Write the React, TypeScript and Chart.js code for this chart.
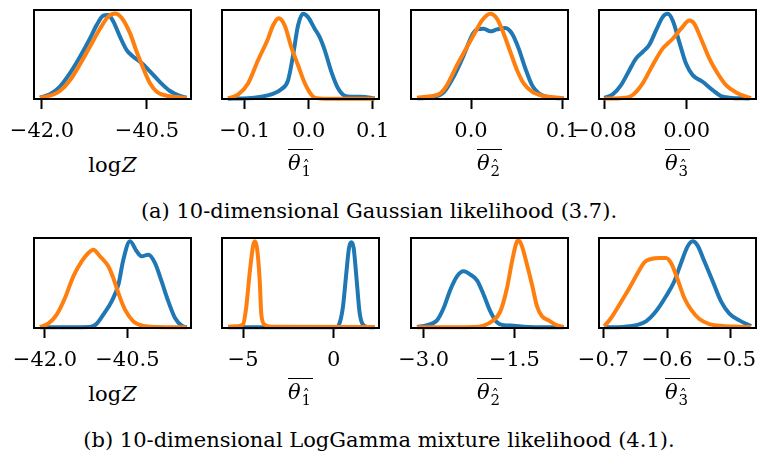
import React, { useEffect, useRef } from 'react';
import { Chart, registerables } from 'chart.js';

Chart.register(...registerables);

const BLUE = '#1f77b4';
const ORANGE = '#ff7f0e';
const FONT = 'DejaVu Serif';

// ---- (a) 10-dimensional Gaussian likelihood: [value, density (scaled to panel height)] ----
const gaussLogZBlue: number[][] = [[-42.029,0.015],[-41.886,0.053],[-41.743,0.14],[-41.6,0.29],[-41.457,0.475],[-41.314,0.68],[-41.219,0.83],[-41.124,0.936],[-41.053,0.944],[-40.981,0.87],[-40.886,0.7],[-40.79,0.55],[-40.696,0.475],[-40.6,0.42],[-40.457,0.31],[-40.314,0.19],[-40.171,0.09],[-40.029,0.034],[-39.933,0.015]];
const gaussLogZOrange: number[][] = [[-42.029,0.015],[-41.886,0.037],[-41.743,0.09],[-41.6,0.21],[-41.457,0.39],[-41.314,0.59],[-41.171,0.79],[-41.053,0.925],[-40.957,0.96],[-40.861,0.91],[-40.743,0.74],[-40.647,0.53],[-40.553,0.345],[-40.457,0.176],[-40.361,0.082],[-40.219,0.037],[-40.076,0.022],[-39.933,0.01]];

const gaussT1Blue: number[][] = [[-0.1261,0.004],[-0.0948,0.0075],[-0.074,0.026],[-0.0584,0.052],[-0.0428,0.11],[-0.0323,0.21],[-0.0245,0.49],[-0.0167,0.826],[-0.0089,0.957],[-0.0011,0.92],[0.0093,0.79],[0.0171,0.696],[0.025,0.55],[0.0354,0.305],[0.0458,0.12],[0.0562,0.037],[0.0666,0.026],[0.0823,0.026],[0.1031,0.0075]];
const gaussT1Orange: number[][] = [[-0.1261,0.0075],[-0.1105,0.05],[-0.0948,0.175],[-0.0792,0.435],[-0.0636,0.677],[-0.0558,0.826],[-0.0469,0.908],[-0.0375,0.826],[-0.0271,0.58],[-0.0167,0.38],[-0.0063,0.18],[0.0015,0.074],[0.0093,0.015],[0.025,0.004],[0.1031,0.004]];

const gaussT2Blue: number[][] = [[-0.0591,0.007],[-0.0409,0.022],[-0.0299,0.074],[-0.019,0.25],[-0.008,0.49],[0.0011,0.715],[0.0066,0.782],[0.0139,0.79],[0.0212,0.76],[0.0285,0.782],[0.0376,0.797],[0.0449,0.734],[0.0522,0.566],[0.0595,0.343],[0.0668,0.156],[0.0741,0.063],[0.0832,0.022],[0.1015,0.007]];
const gaussT2Orange: number[][] = [[-0.0591,0.015],[-0.0445,0.03],[-0.0336,0.063],[-0.0263,0.156],[-0.0153,0.38],[-0.0044,0.585],[0.0047,0.752],[0.012,0.882],[0.0212,0.957],[0.0285,0.9],[0.0358,0.734],[0.0431,0.528],[0.0504,0.324],[0.0577,0.175],[0.0668,0.082],[0.0796,0.033],[0.0906,0.019],[0.1015,0.007]];

const gaussT3Blue: number[][] = [[-0.08,0.011],[-0.0719,0.052],[-0.0638,0.156],[-0.0557,0.324],[-0.0493,0.454],[-0.0428,0.528],[-0.0363,0.61],[-0.0298,0.77],[-0.0234,0.92],[-0.0185,0.957],[-0.0136,0.882],[-0.0072,0.64],[-0.0007,0.398],[0.0058,0.268],[0.0155,0.194],[0.0252,0.1],[0.0333,0.033],[0.0414,0.015],[0.0609,0.007]];
const gaussT3Orange: number[][] = [[-0.08,0.004],[-0.0622,0.011],[-0.0525,0.045],[-0.0428,0.175],[-0.0331,0.38],[-0.0234,0.566],[-0.0136,0.677],[-0.0055,0.79],[0.0026,0.882],[0.0074,0.845],[0.0139,0.677],[0.022,0.454],[0.0301,0.287],[0.0382,0.156],[0.0479,0.074],[0.0576,0.026],[0.0625,0.011]];

// ---- (b) 10-dimensional LogGamma mixture likelihood ----
const lgLogZBlue: number[][] = [[-42.091,0.007],[-41.18,0.011],[-41.059,0.048],[-40.938,0.148],[-40.786,0.296],[-40.664,0.48],[-40.573,0.759],[-40.452,0.963],[-40.33,0.852],[-40.239,0.796],[-40.118,0.815],[-39.996,0.722],[-39.876,0.518],[-39.754,0.296],[-39.632,0.111],[-39.511,0.026],[-39.42,0.007]];
const lgLogZOrange: number[][] = [[-42.091,0.011],[-41.939,0.048],[-41.787,0.148],[-41.636,0.333],[-41.484,0.574],[-41.332,0.74],[-41.211,0.833],[-41.12,0.87],[-40.998,0.796],[-40.846,0.685],[-40.756,0.555],[-40.664,0.389],[-40.543,0.204],[-40.391,0.074],[-40.209,0.022],[-39.966,0.011],[-39.42,0.007]];

const lgT1Blue: number[][] = [[-5.83,0.007],[0.145,0.007],[0.329,0.056],[0.513,0.24],[0.697,0.611],[0.844,0.889],[0.973,0.952],[1.101,0.889],[1.249,0.574],[1.432,0.167],[1.616,0.037],[1.892,0.011],[2.26,0.007]];
const lgT1Orange: number[][] = [[-5.83,0.015],[-5.279,0.019],[-5.003,0.04],[-4.819,0.24],[-4.635,0.611],[-4.451,0.907],[-4.359,0.963],[-4.231,0.889],[-4.083,0.537],[-3.991,0.148],[-3.807,0.037],[-3.44,0.015],[2.26,0.011]];

const lgT2Blue: number[][] = [[-3.111,0.011],[-2.945,0.033],[-2.78,0.085],[-2.67,0.222],[-2.559,0.426],[-2.449,0.574],[-2.339,0.63],[-2.228,0.593],[-2.118,0.53],[-2.008,0.37],[-1.898,0.185],[-1.787,0.063],[-1.677,0.03],[-1.511,0.026],[-1.346,0.015],[-0.684,0.007]];
const lgT2Orange: number[][] = [[-3.111,0.007],[-2.173,0.011],[-2.008,0.026],[-1.87,0.074],[-1.732,0.185],[-1.622,0.444],[-1.539,0.74],[-1.467,0.944],[-1.429,0.974],[-1.374,0.907],[-1.291,0.704],[-1.208,0.481],[-1.125,0.24],[-1.043,0.13],[-0.932,0.085],[-0.794,0.03],[-0.684,0.011]];

const lgT3Blue: number[][] = [[-0.6984,0.007],[-0.6696,0.011],[-0.6487,0.03],[-0.633,0.074],[-0.6173,0.185],[-0.6016,0.352],[-0.5885,0.519],[-0.578,0.722],[-0.5676,0.907],[-0.5597,0.963],[-0.5519,0.915],[-0.5414,0.741],[-0.5283,0.519],[-0.5152,0.296],[-0.5021,0.159],[-0.4865,0.085],[-0.4681,0.019]];
const lgT3Orange: number[][] = [[-0.6984,0.019],[-0.6879,0.111],[-0.6748,0.259],[-0.6591,0.444],[-0.646,0.611],[-0.6356,0.73],[-0.6251,0.767],[-0.612,0.778],[-0.6016,0.778],[-0.5937,0.722],[-0.5832,0.537],[-0.5728,0.333],[-0.5623,0.204],[-0.5492,0.1],[-0.5335,0.044],[-0.5126,0.022],[-0.4865,0.015],[-0.4681,0.011]];

// ---- tick values and labels ----
const ticksLogZ = [-42.0, -40.5];
const labelsLogZ = ['\u221242.0', '\u221240.5'];
const ticksGT1 = [-0.1, 0.0, 0.1];
const labelsGT1 = ['\u22120.1', '0.0', '0.1'];
const ticksGT2 = [0.0, 0.1];
const labelsGT2 = ['0.0', '0.1'];
const ticksGT3 = [-0.08, 0.0];
const labelsGT3 = ['\u22120.08', '0.00'];
const ticksLT1 = [-5, 0];
const labelsLT1 = ['\u22125', '0'];
const ticksLT2 = [-3.0, -1.5];
const labelsLT2 = ['\u22123.0', '\u22121.5'];
const ticksLT3 = [-0.7, -0.6, -0.5];
const labelsLT3 = ['\u22120.7', '\u22120.6', '\u22120.5'];

// axis ranges
const xRangeGLogZ = [-42.114, -39.871];
const xRangeGT1 = [-0.1355, 0.1098];
const xRangeGT2 = [-0.0657, 0.1062];
const xRangeGT3 = [-0.0852, 0.0673];
const xRangeLLogZ = [-42.2, -39.341];
const xRangeLT1 = [-6.161, 2.499];
const xRangeLT2 = [-3.21, -0.613];
const xRangeLT3 = [-0.7068, -0.4603];

const captionA = '(a) 10-dimensional Gaussian likelihood (3.7).';
const captionB = '(b) 10-dimensional LogGamma mixture likelihood (4.1).';

const PAD_X = 40;
const PAD_TOP = 8;
const AXIS_H = 52;
const BOX_W = 157;
const COL_LEFT = [34, 222, 411, 599];
const ROW_TOP = [10, 238];
const ROW_H = [89, 90];

const framePlugin = {
  id: 'frame',
  afterDatasetsDraw(chart: any) {
    const { ctx, chartArea: a } = chart;
    ctx.save();
    ctx.strokeStyle = '#000';
    ctx.lineWidth = 2;
    ctx.strokeRect(a.left, a.top, a.right - a.left, a.bottom - a.top);
    ctx.restore();
  },
};

type PanelProps = {
  left: number; top: number; height: number;
  range: number[]; ticks: number[]; labels: string[];
  blue: number[][]; orange: number[][];
};

function Panel({ left, top, height, range, ticks, labels, blue, orange }: PanelProps) {
  const ref = useRef<HTMLCanvasElement>(null);
  useEffect(() => {
    if (!ref.current) return;
    const mk = (arr: number[][]) => arr.map(([x, y]) => ({ x, y }));
    const chart = new Chart(ref.current, {
      type: 'line',
      data: {
        datasets: [
          { data: mk(blue), borderColor: BLUE, borderWidth: 4, pointRadius: 0, fill: false, cubicInterpolationMode: 'monotone', clip: false, order: 2 } as any,
          { data: mk(orange), borderColor: ORANGE, borderWidth: 4, pointRadius: 0, fill: false, cubicInterpolationMode: 'monotone', clip: false, order: 1 } as any,
        ],
      },
      options: {
        animation: false,
        responsive: true,
        maintainAspectRatio: false,
        events: [],
        layout: { padding: { left: PAD_X, right: PAD_X, top: PAD_TOP, bottom: 0 } },
        plugins: { legend: { display: false }, tooltip: { enabled: false } },
        scales: {
          x: {
            type: 'linear',
            min: range[0],
            max: range[1],
            afterBuildTicks: (s: any) => { s.ticks = ticks.map((v) => ({ value: v })); },
            afterFit: (s: any) => { s.height = AXIS_H; },
            ticks: {
              callback: (_v: any, i: number) => labels[i],
              font: { family: FONT, size: 21 },
              color: '#000',
              padding: 10,
              maxRotation: 0,
              autoSkip: false,
            },
            grid: { drawOnChartArea: false, drawTicks: true, tickLength: 10, tickWidth: 2, tickColor: '#000' },
            border: { display: false },
          },
          y: { display: false, min: 0, max: 1 },
        },
      } as any,
      plugins: [framePlugin],
    });
    return () => chart.destroy();
  }, []);
  return (
    <div style={{ position: 'absolute', left: left - PAD_X, top: top - PAD_TOP, width: BOX_W + 2 * PAD_X, height: PAD_TOP + height + AXIS_H }}>
      <canvas ref={ref} />
    </div>
  );
}

function LogZ() {
  return <span>log<i style={{ marginLeft: 1 }}>Z</i></span>;
}

function Theta({ n }: { n: string }) {
  return (
    <span style={{ display: 'inline-block', borderTop: '1.5px solid #000', lineHeight: '26px', paddingRight: 2 }}>
      <i>θ</i>
      <span style={{ display: 'inline-block', position: 'relative', top: 6, fontSize: 15, lineHeight: '15px', marginLeft: 1 }}>
        {n}
        <span style={{ position: 'absolute', left: 0, right: 0, top: -5, textAlign: 'center', fontSize: 14, lineHeight: '15px' }}>{'\u02C6'}</span>
      </span>
    </span>
  );
}

function AxisLabel({ left, top, children }: { left: number; top: number; children: React.ReactNode }) {
  return (
    <div style={{ position: 'absolute', left, top, width: BOX_W, textAlign: 'center', fontSize: 21, lineHeight: '24px', fontFamily: FONT }}>
      {children}
    </div>
  );
}

export default function App() {
  const rows = [
    [
      { range: xRangeGLogZ, ticks: ticksLogZ, labels: labelsLogZ, blue: gaussLogZBlue, orange: gaussLogZOrange },
      { range: xRangeGT1, ticks: ticksGT1, labels: labelsGT1, blue: gaussT1Blue, orange: gaussT1Orange },
      { range: xRangeGT2, ticks: ticksGT2, labels: labelsGT2, blue: gaussT2Blue, orange: gaussT2Orange },
      { range: xRangeGT3, ticks: ticksGT3, labels: labelsGT3, blue: gaussT3Blue, orange: gaussT3Orange },
    ],
    [
      { range: xRangeLLogZ, ticks: ticksLogZ, labels: labelsLogZ, blue: lgLogZBlue, orange: lgLogZOrange },
      { range: xRangeLT1, ticks: ticksLT1, labels: labelsLT1, blue: lgT1Blue, orange: lgT1Orange },
      { range: xRangeLT2, ticks: ticksLT2, labels: labelsLT2, blue: lgT2Blue, orange: lgT2Orange },
      { range: xRangeLT3, ticks: ticksLT3, labels: labelsLT3, blue: lgT3Blue, orange: lgT3Orange },
    ],
  ];
  const captions = [captionA, captionB];
  const captionTop = [199, 428];
  return (
    <div style={{ position: 'absolute', left: 0, top: 0, width: 758, height: 460, background: '#fff', fontFamily: FONT, color: '#000', overflow: 'hidden' }}>
      {rows.map((row, r) =>
        row.map((p, c) => (
          <Panel key={`p${r}${c}`} left={COL_LEFT[c]} top={ROW_TOP[r]} height={ROW_H[r]} {...p} />
        ))
      )}
      {rows.map((_row, r) => {
        const bottom = ROW_TOP[r] + ROW_H[r];
        return (
          <React.Fragment key={`l${r}`}>
            <AxisLabel left={COL_LEFT[0]} top={bottom + 54}><LogZ /></AxisLabel>
            <AxisLabel left={COL_LEFT[1]} top={bottom + 50}><Theta n="1" /></AxisLabel>
            <AxisLabel left={COL_LEFT[2]} top={bottom + 50}><Theta n="2" /></AxisLabel>
            <AxisLabel left={COL_LEFT[3]} top={bottom + 50}><Theta n="3" /></AxisLabel>
          </React.Fragment>
        );
      })}
      {captions.map((t, i) => (
        <div key={`c${i}`} style={{ position: 'absolute', left: 0, top: captionTop[i], width: 758, textAlign: 'center', fontSize: 21, lineHeight: '24px', fontFamily: FONT }}>
          {t}
        </div>
      ))}
    </div>
  );
}
